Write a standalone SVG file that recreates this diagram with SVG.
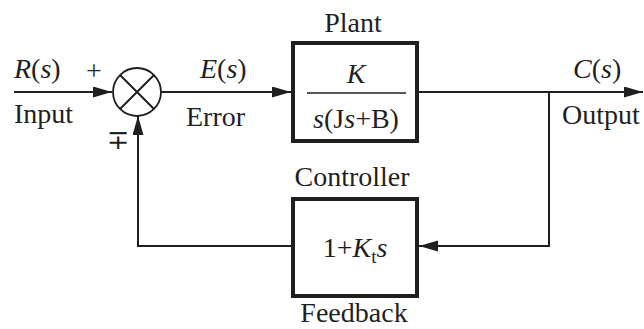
<svg xmlns="http://www.w3.org/2000/svg" width="644" height="329" viewBox="0 0 644 329">
<style>
text{font-family:"Liberation Serif","Times New Roman",serif;font-size:28px;fill:#1f1f24}
.i{font-style:italic}
.ln{fill:none;stroke:#1f1f1f;stroke-width:2}
.box{fill:#fff;stroke:#1f1f1f;stroke-width:4}
</style>
<defs>
<marker id="ah" markerUnits="userSpaceOnUse" markerWidth="20" markerHeight="12" refX="19" refY="5.5" orient="auto">
<path d="M0,0 L19,5.5 L0,11 z" fill="#1f1f1f"/>
</marker>
</defs>
<g id="connectors">
<path class="ln" d="M14,92 H112" marker-end="url(#ah)"/>
<path class="ln" d="M161,92 H291" marker-end="url(#ah)"/>
<path class="ln" d="M417,92 H643" marker-end="url(#ah)"/>
<path class="ln" d="M549,92 V246 H419" marker-end="url(#ah)"/>
<path class="ln" d="M293,246 H138 V116" marker-end="url(#ah)"/>
</g>
<g id="sum">
<circle cx="137" cy="92" r="24" fill="#fff" stroke="#1f1f1f" stroke-width="1.8"/>
<path class="ln" d="M120,75 L154,109 M154,75 L120,109" stroke-width="1.6"/>
<text x="94" y="80" text-anchor="middle">+</text>
<text x="118" y="149" text-anchor="middle" style="font-family:'DejaVu Serif',serif;font-size:27px">∓</text>
</g>
<g id="input">
<text x="14" y="78"><tspan class="i">R</tspan>(<tspan class="i">s</tspan>)</text>
<text x="14" y="123">Input</text>
</g>
<g id="error">
<text x="200" y="78"><tspan class="i">E</tspan>(<tspan class="i">s</tspan>)</text>
<text x="186" y="126">Error</text>
</g>
<g id="plant">
<text x="353" y="32" text-anchor="middle">Plant</text>
<rect class="box" x="293" y="43" width="124" height="98"/>
<text x="356" y="83" text-anchor="middle" class="i">K</text>
<line x1="307" y1="93" x2="406" y2="93" stroke="#1f1f1f" stroke-width="1.5"/>
<text x="356" y="128" text-anchor="middle"><tspan class="i">s</tspan>(J<tspan class="i">s</tspan>+B)</text>
</g>
<g id="output">
<text x="573" y="78"><tspan class="i">C</tspan>(<tspan class="i">s</tspan>)</text>
<text x="562" y="124">Output</text>
</g>
<g id="controller">
<text x="352" y="186" text-anchor="middle">Controller</text>
<rect class="box" x="293" y="199" width="124" height="97"/>
<text x="355" y="257" text-anchor="middle">1+<tspan class="i">K</tspan><tspan font-size="19" dy="6">t</tspan><tspan class="i" dy="-6">s</tspan></text>
<text x="354" y="322" text-anchor="middle">Feedback</text>
</g>
</svg>
